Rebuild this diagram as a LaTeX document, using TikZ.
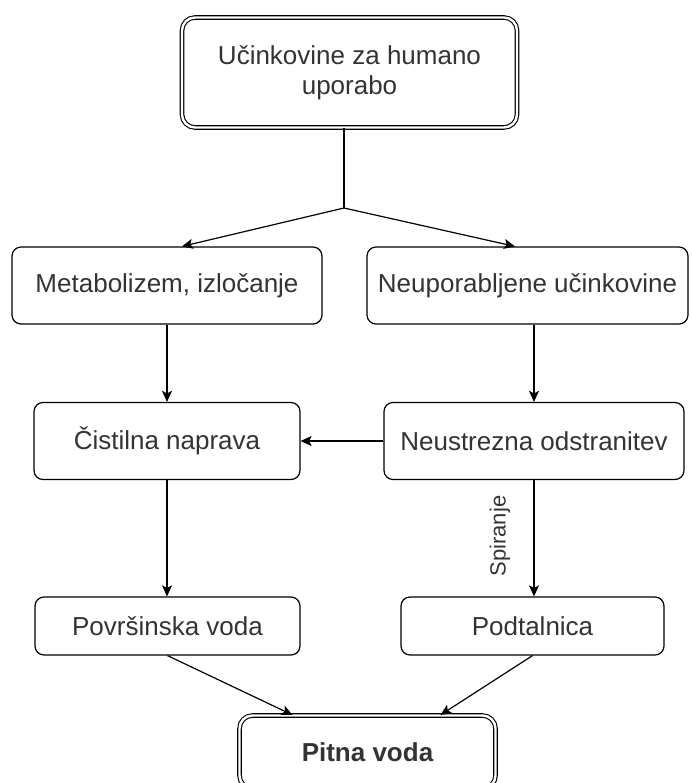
\documentclass[tikz,border=0pt]{standalone}
\usepackage{fontspec}
\setmainfont{Liberation Sans}
\usepackage{xcolor}
\usepackage{tikz}
\usetikzlibrary{arrows.meta}
\tikzset{
    box/.style={draw, rounded corners=9pt, line width=1.2pt, text=black!80, minimum height=77pt, inner sep=0pt,
                font=\fontsize{26pt}{30pt}\selectfont},
    dbox/.style={box, double, double distance=2.4pt, line width=1.1pt, rounded corners=13pt},
    arr/.style={-{Stealth[length=11pt,width=10pt,inset=2.5pt]}, line width=1.2pt},
    lbl/.style={text=black!80, font=\fontsize{22pt}{26pt}\selectfont, inner sep=0pt}}
\begin{document}
\begin{tikzpicture}[x=1pt,y=-1pt]
\useasboundingbox (0,0) rectangle (691,783);
% nodes
\node[dbox, minimum width=335pt, minimum height=110pt, align=center] (hum) at (349.5,72.5) {Učinkovine za humano\\uporabo};
\node[box, minimum width=310pt] (meta) at (167,285.5) {Metabolizem, izločanje};
\node[box, minimum width=321pt] (neup) at (527.5,285.5) {Neuporabljene učinkovine};
\node[box, minimum width=266pt] (cist) at (167,441) {Čistilna naprava};
\node[box, minimum width=300pt] (neus) at (534,441) {Neustrezna odstranitev};
\node[box, minimum width=265pt, minimum height=58pt] (povr) at (167.5,626) {Površinska voda};
\node[box, minimum width=263pt, minimum height=58pt] (podt) at (532.5,626) {Podtalnica};
\node[dbox, minimum width=256pt, minimum height=73pt, font=\fontsize{26pt}{30pt}\selectfont\bfseries] (pitna) at (367.5,752) {Pitna voda};
% connectors
\coordinate (split) at (344,208);
\draw[line width=1.2pt] (split |- hum.south) -- (split);
\draw[arr] (split) -- ([xshift=15pt]meta.north);
\draw[arr] (split) -- ([xshift=-12.5pt]neup.north);
\draw[arr] (meta) -- (cist);
\draw[arr] (neus.north |- neup.south) -- (neus.north);
\draw[arr] (neus) -- (cist);
\draw[arr] (cist.south) -- (cist.south |- povr.north);
\draw[arr] (neus.south) -- (neus.south |- podt.north);
\node[lbl, rotate=90] (spir) at (500,536) {Spiranje};
\draw[arr] (povr.south) -- ([xshift=-75pt]pitna.north);
\draw[arr] (podt.south) -- ([xshift=73pt]pitna.north);
\end{tikzpicture}
\end{document}
